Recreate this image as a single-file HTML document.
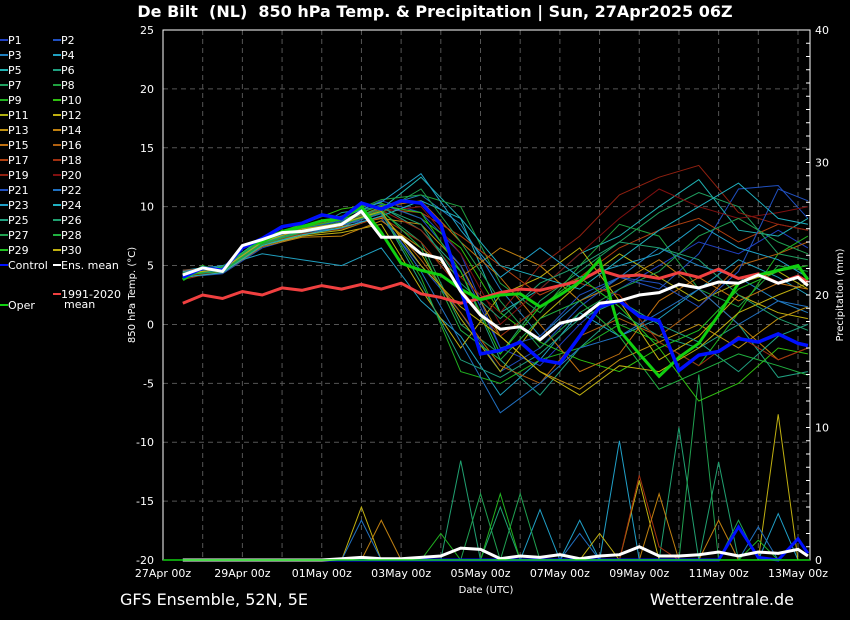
<!DOCTYPE html>
<html><head><meta charset="utf-8"><style>
html,body{margin:0;padding:0;background:#000;}
svg{display:block;font-family:"DejaVu Sans","Liberation Sans",sans-serif;}
</style></head><body>
<svg id="chart" width="850" height="620" viewBox="0 0 850 620" xmlns="http://www.w3.org/2000/svg">
<rect width="850" height="620" fill="#000"/>
<text x="435" y="17" fill="#fff" font-size="16" font-weight="bold" text-anchor="middle" xml:space="preserve">De Bilt  (NL)  850 hPa Temp. &amp; Precipitation | Sun, 27Apr2025 06Z</text>
<g id="grid"></g>
<g id="precip"></g>
<g id="members"></g>
<g id="main"></g>
<g id="axes"></g>
<g id="legend"></g>
<text transform="translate(135,295) rotate(-90)" fill="#fff" font-size="10" text-anchor="middle">850 hPa Temp. (°C)</text>
<text transform="translate(843,295) rotate(-90)" fill="#fff" font-size="10" text-anchor="middle">Precipitation (mm)</text>
<text x="486" y="593" fill="#fff" font-size="10" text-anchor="middle">Date (UTC)</text>
<text x="120" y="605" fill="#fff" font-size="16">GFS Ensemble, 52N, 5E</text>
<text x="794" y="605" fill="#fff" font-size="16" text-anchor="end">Wetterzentrale.de</text>
</svg>
<script>
const mainHours=[12,24,36,48,60,72,84,96,108,120,132,144,156,168,180,192,204,216,228,240,252,264,276,288,300,312,324,336,348,360,372,384,390];
const memberHours=[12,36,60,84,108,132,156,180,204,228,252,276,300,324,348,372,390];
const xTickLabels=["27Apr 00z","29Apr 00z","01May 00z","03May 00z","05May 00z","07May 00z","09May 00z","11May 00z","13May 00z"];
const xTickHours=[0,48,96,144,192,240,288,336,384];
const yTicks=[25,20,15,10,5,0,-5,-10,-15,-20];
const y2Ticks=[0,10,20,30,40];
const ensMean=[4.2,4.8,4.5,6.7,7.2,7.8,7.9,8.2,8.5,9.6,7.4,7.4,6.0,5.6,2.8,0.8,-0.4,-0.2,-1.3,0.1,0.5,1.8,2.0,2.5,2.7,3.4,3.1,3.6,3.5,4.2,3.5,4.0,3.3];
const control=[4.0,4.8,4.6,6.5,7.3,8.3,8.6,9.3,9.0,10.3,9.8,10.5,10.3,8.5,3.0,-2.5,-2.2,-1.5,-3.0,-3.3,-1.0,1.5,2.0,0.7,0.3,-3.9,-2.6,-2.3,-1.2,-1.5,-0.8,-1.6,-1.8];
const oper=[3.8,4.9,4.5,6.6,7.0,7.9,8.3,8.8,9.0,10.0,7.8,5.2,4.6,4.2,3.0,2.1,2.5,2.6,1.5,2.5,3.6,5.5,-0.5,-2.5,-4.4,-2.8,-1.6,0.8,3.5,4.2,4.6,5.0,3.8];
const climate=[1.8,2.5,2.2,2.8,2.5,3.1,2.9,3.3,3.0,3.4,3.0,3.5,2.6,2.3,1.8,2.2,2.7,3.0,2.9,3.3,3.7,4.6,4.1,4.2,3.9,4.4,4.0,4.7,3.9,4.3,3.5,4.1,3.6];
const P1=[4.5,4.8,7.2,8.0,9.0,10.5,9.5,6.0,-2.0,-3.5,0.0,3.0,5.0,7.0,6.0,8.0,6.5];
const P2=[4.0,4.3,6.5,7.5,8.5,9.0,5.0,1.0,-4.0,-2.0,1.5,4.0,3.0,6.0,11.5,11.8,9.0];
const P3=[4.2,4.6,7.0,7.8,8.2,10.0,11.0,8.5,3.0,-1.0,2.0,4.0,6.5,5.0,4.0,2.0,1.0];
const P4=[4.6,5.0,6.0,5.5,5.0,6.5,2.0,-1.0,-6.0,-3.0,1.0,-1.0,0.5,3.0,5.5,4.0,2.5];
const P5=[4.1,4.5,7.1,8.2,8.8,9.8,12.5,9.0,1.0,3.0,6.0,7.5,10.0,12.3,8.0,7.5,9.0];
const P6=[3.9,4.7,6.8,7.6,9.5,10.0,8.0,4.5,-3.0,-6.0,-2.0,1.0,-1.0,-2.0,0.0,-4.5,-4.0];
const P7=[4.4,4.6,6.9,8.1,8.5,9.6,7.0,0.0,-2.5,2.0,4.5,7.0,9.5,11.2,10.0,6.0,5.5];
const P8=[4.3,4.9,7.3,8.4,9.2,10.6,11.0,10.0,3.5,1.0,5.0,8.5,7.5,3.0,1.5,5.0,4.5];
const P9=[4.0,4.5,7.0,8.0,9.0,9.5,4.0,-4.0,-5.0,-3.0,-2.0,0.0,-1.5,-3.5,1.0,6.0,7.5];
const P10=[4.2,4.8,7.4,8.5,9.8,10.3,9.0,6.5,1.0,-1.5,-3.0,-4.0,-2.0,-6.5,-5.0,-2.0,-2.5];
const P11=[4.5,4.4,7.0,7.6,8.0,9.2,6.0,0.5,-4.0,0.5,3.5,6.0,4.0,2.0,3.5,4.5,3.0];
const P12=[4.1,4.7,6.7,7.5,7.8,8.5,3.0,-2.0,2.5,4.0,6.5,2.0,-3.0,-1.0,2.5,1.0,0.5];
const P13=[4.3,4.6,6.9,7.9,8.3,9.0,8.5,5.0,-1.0,-4.0,-5.5,-3.0,-1.5,0.0,-2.0,0.5,1.5];
const P14=[4.0,4.4,6.6,7.4,7.5,8.8,6.5,4.0,6.5,5.0,2.0,3.5,5.5,3.0,0.0,-3.0,-2.0];
const P15=[4.4,4.9,7.2,8.2,8.6,10.0,10.5,7.0,4.0,0.0,-4.0,-2.5,2.0,4.0,2.0,3.5,3.0];
const P16=[4.2,4.5,6.8,7.8,8.4,9.4,5.5,1.0,-3.5,-5.0,-1.0,0.5,-1.0,1.5,5.0,6.0,7.0];
const P17=[4.6,4.8,7.1,8.3,8.9,9.8,9.5,7.5,5.0,2.5,4.0,6.5,8.0,9.0,7.0,8.5,8.0];
const P18=[3.8,4.6,6.9,7.7,8.1,9.1,7.0,3.0,-1.0,1.5,3.5,2.5,-1.5,-3.5,-1.0,-3.0,-2.0];
const P19=[4.3,4.7,7.0,8.0,8.7,9.7,8.0,4.0,1.0,5.0,7.5,11.0,12.5,13.5,9.5,8.5,8.0];
const P20=[4.1,4.5,6.8,7.9,8.6,9.6,10.0,6.0,0.0,3.0,6.0,9.0,11.5,10.0,9.0,9.5,10.0];
const P21=[4.4,4.8,7.2,8.1,8.8,10.2,9.0,5.0,-2.0,-1.0,2.5,4.0,3.5,1.5,4.5,11.5,10.5];
const P22=[4.2,4.6,6.9,7.8,8.4,9.4,4.5,-1.5,-7.5,-5.0,-2.0,-1.0,1.0,3.0,0.0,2.0,1.5];
const P23=[4.5,4.9,7.3,8.3,9.1,10.4,12.8,8.0,4.0,6.5,4.0,5.0,6.0,8.5,6.5,5.5,4.0];
const P24=[4.0,4.4,6.7,7.6,8.2,9.2,10.5,9.0,5.0,4.0,3.0,5.5,8.0,10.0,12.0,9.0,8.5];
const P25=[4.3,4.7,7.0,7.9,8.6,9.5,3.5,-3.0,-4.5,-2.5,0.5,2.0,0.0,-1.5,-4.0,-1.0,0.0];
const P26=[4.1,4.8,7.1,8.0,8.7,9.9,8.5,3.5,0.5,3.5,5.0,7.0,6.5,5.5,2.5,0.5,-0.5];
const P27=[4.4,4.6,6.9,7.8,8.5,9.5,11.5,7.0,2.0,-2.0,1.0,3.0,4.5,7.5,9.0,7.0,6.0];
const P28=[4.2,4.5,6.8,7.9,8.6,9.7,6.5,-0.5,-3.0,0.5,2.0,-1.0,-5.5,-4.0,-2.5,-3.5,-4.3];
const P29=[4.0,4.9,7.2,8.2,8.9,10.1,9.5,4.5,-2.5,1.5,4.0,1.5,-2.0,-0.5,3.0,4.5,5.0];
const P30=[4.3,4.7,7.0,8.1,8.6,9.6,5.0,1.5,-1.0,-4.0,-6.0,-3.5,-4.0,-2.0,1.0,2.5,3.5];
const members=[P1,P2,P3,P4,P5,P6,P7,P8,P9,P10,P11,P12,P13,P14,P15,P16,P17,P18,P19,P20,P21,P22,P23,P24,P25,P26,P27,P28,P29,P30];
const memberColors=["#2040c0","#2050c0","#2080c0","#20a0c0","#20b0b0","#20a080","#20a060","#20a040","#20b020","#30c010","#b0b010","#c0b010","#c09010","#c08010","#c07010","#b06010","#b04010","#a03010","#902010","#801010","#2050c0","#2070c0","#20a0c8","#20b0c0","#20a080","#20a070","#20a050","#20b040","#20c020","#c0b010"];
const precipMean=[0,0,0,0,0,0,0,0,0.1,0.2,0.1,0.1,0.2,0.3,0.9,0.8,0.1,0.3,0.2,0.4,0.1,0.3,0.4,1.0,0.3,0.3,0.4,0.6,0.3,0.6,0.5,0.8,0.3];
const precipControl=[0,0,0,0,0,0,0,0,0,0,0,0,0,0,0,0,0,0,0,0,0,0,0,0,0,0,0,0,2.5,0.2,0,1.6,0.5];
const precipP23=[0,0,0,0,0,0,0,0,0,0,0,0,0,0,0,0,0,0,3.8,0,3,0,9,0,0,0,0,0,0,0,3.5,0,0];
const precipP26=[0,0,0,0,0,0,0,0,0,0,0,0,0,0,7.5,0,4,0,0,0,0,0,0,0,0,10,0,7.4,0,0,0,0,0];
const precipP12=[0,0,0,0,0,0,0,0,0,4,0,0,0,0,0,0,0,0,0,0,0,2,0,6,0,0,0,0,0,0,11,0,0];
const precipP27=[0,0,0,0,0,0,0,0,0,0,0,0,0,0,0,5,0,5,0,0,0,0,0,0,0,0,14,0,3,0,0,0,0];
const precipP18=[0,0,0,0,0,0,0,0,0,0,0,0,0,0,0,0,0,0,0,0,0,0,0,6.4,1,0,0,0,0,0,0,0,0];
const precipP14=[0,0,0,0,0,0,0,0,0,0,3,0,0,0,0,0,0,0,0,0,0,0,0,0,5,0,0,3,0,0,0,0,0];
const precipP22=[0,0,0,0,0,0,0,0,0,3,0,0,0,0,0,0,0,0,0,0,2,0,0,0,0,0,0,0,0,2.5,0,0,0];
const precipP9=[0,0,0,0,0,0,0,0,0,0,0,0,0,2,0,0,5,0,0,0,0,0,0,0,0,0,0,0,0,1.5,0,0,0];
const precipMembers=[precipP23,precipP26,precipP12,precipP27,precipP18,precipP14,precipP22,precipP9];
const precipMemberIdx=[22,25,11,26,17,13,21,8];

const NS="http://www.w3.org/2000/svg";
const X0=163,X1=810,Y0=30,Y1=560;
function xOf(h){return X0+h*(798-163)/384;}
function yOf(t){return Y1-(t+20)*(Y1-Y0)/45;}
function yP(p){return Y1-p*(Y1-Y0)/40;}
function mk(tag,attrs,parent){const e=document.createElementNS(NS,tag);for(const k in attrs)e.setAttribute(k,attrs[k]);parent.appendChild(e);return e;}
function pts(hours,vals,yf){return vals.map((v,i)=>xOf(hours[i]).toFixed(1)+","+yf(v).toFixed(1)).join(" ");}

const grid=document.getElementById("grid");
for(let d=1;d<=16;d++){
  const l=mk("line",{x1:xOf(d*24),x2:xOf(d*24),y1:Y0,y2:Y1,stroke:"#555","stroke-dasharray":"5,4","stroke-width":1},grid);
  
  
}
yTicks.forEach(t=>{if(t===25||t===-20)return;
  const l=mk("line",{x1:X0,x2:X1,y1:yOf(t),y2:yOf(t),stroke:"#555","stroke-dasharray":"5,4","stroke-width":1},grid);
  
  
});

const pg=document.getElementById("precip");
precipMembers.forEach((arr,k)=>{
  const pl=mk("polyline",{points:pts(mainHours,arr,yP),fill:"none",stroke:memberColors[precipMemberIdx[k]],"stroke-width":1},pg);
  
  
});
const pc=mk("polyline",{points:pts(mainHours,precipControl,yP),fill:"none",stroke:"#0010ff","stroke-width":3},pg);


const pm=mk("polyline",{points:pts(mainHours,precipMean,yP),fill:"none",stroke:"#fff","stroke-width":3},pg);



const mg=document.getElementById("members");
members.forEach((arr,k)=>{
  const pl=mk("polyline",{points:pts(memberHours,arr,yOf),fill:"none",stroke:memberColors[k],"stroke-width":1},mg);
  
  
});
const main=document.getElementById("main");
const cl=mk("polyline",{points:pts(mainHours,climate,yOf),fill:"none",stroke:"#f04040","stroke-width":3},main);


const ol=mk("polyline",{points:pts(mainHours,oper,yOf),fill:"none",stroke:"#10d010","stroke-width":3},main);


const ctl=mk("polyline",{points:pts(mainHours,control,yOf),fill:"none",stroke:"#0010ff","stroke-width":3.5},main);


const el=mk("polyline",{points:pts(mainHours,ensMean,yOf),fill:"none",stroke:"#fff","stroke-width":3},main);



const ax=document.getElementById("axes");
const fr=mk("rect",{x:X0,y:Y0,width:X1-X0,height:Y1-Y0,fill:"none",stroke:"#fff","stroke-width":1},ax);


const zl=mk("line",{x1:X0,x2:X1,y1:Y1,y2:Y1,stroke:"#10d010","stroke-width":1.5},ax);


yTicks.forEach(t=>{
  const tx=mk("text",{x:154,y:yOf(t)+4,fill:"#fff","font-size":11,"text-anchor":"end"},ax);
  tx.textContent=t;
  
  
});
for(let p=1;p<40;p++){
  const tk=mk("line",{x1:X1-4,x2:X1,y1:yP(p),y2:yP(p),stroke:"#fff","stroke-width":1},ax);
  
  
}
y2Ticks.forEach(p=>{
  const tx=mk("text",{x:815,y:yP(p)+4,fill:"#fff","font-size":11},ax);
  tx.textContent=p;
  
  
});
xTickLabels.forEach((s,i)=>{
  const tx=mk("text",{x:xOf(xTickHours[i]),y:577,fill:"#fff","font-size":11,"text-anchor":"middle"},ax);
  tx.textContent=s;
  
  
});

const lg=document.getElementById("legend");
function entry(x,y,color,label){
  const g=mk("g",{},lg);
  
  
  mk("line",{x1:x,x2:x+8,y1:y-4,y2:y-4,stroke:color,"stroke-width":2},g);
  const t=mk("text",{x:x+8,y:y,fill:"#fff","font-size":11},g);
  t.textContent=label;
  return g;
}
for(let k=0;k<30;k++){
  const row=Math.floor(k/2),col=k%2;
  entry(col?53:0,44+row*15,memberColors[k],"P"+(k+1));
}
entry(0,269,"#0010ff","Control");
entry(53,269,"#fff","Ens. mean");
entry(0,309,"#10d010","Oper");
const cg=entry(53,298,"#f04040","1991-2020");
const t2=mk("text",{x:64,y:308,fill:"#fff","font-size":11},cg);
t2.textContent="mean";
</script>
</body></html>
